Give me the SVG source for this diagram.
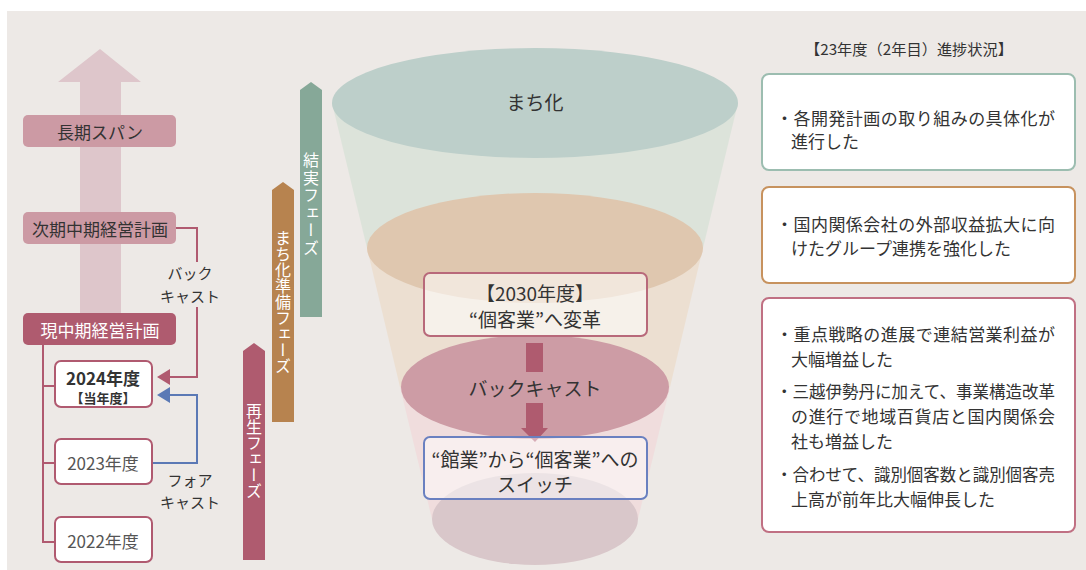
<svg xmlns="http://www.w3.org/2000/svg" width="1086" height="570" viewBox="0 0 1086 570">
<style>
.jp{font-family:"Noto Sans CJK JP","Noto Sans",sans-serif;}
.dark{fill:#333333;}
.lbl{font-size:17px;text-anchor:middle;dominant-baseline:central;}
.small{font-size:15px;text-anchor:middle;dominant-baseline:central;fill:#333;}
.yr{fill:#fff;stroke:#B05A70;stroke-width:2;}
.cr{stroke:#B05A70;stroke-width:2;fill:none;}
.bl{stroke:#5B79B5;stroke-width:2;fill:none;}
.vt{writing-mode:vertical-rl;font-size:16px;fill:#fff;}
.rt{font-size:17px;fill:#333;dominant-baseline:central;}
.card{fill:#fff;stroke-width:2;}
</style>
<rect x="0" y="0" width="1086" height="570" fill="#ffffff"/>
<rect x="7" y="11" width="1079" height="559" fill="#EDE9E6"/>

<g id="span-arrow">
<polygon points="100,49 141,82 121,82 121,320 80,320 80,82 58,82" fill="#DEC6CB"/>
</g>
<g id="long-span" class="jp">
<rect x="23" y="115" width="153" height="32" rx="5" fill="#CC9AA4"/>
<text x="100" y="131" class="lbl dark">長期スパン</text>
</g>
<g id="next-plan" class="jp">
<rect x="23" y="212" width="153" height="32" rx="5" fill="#CC9AA4"/>
<text x="100" y="228" class="lbl dark">次期中期経営計画</text>
</g>
<g id="current-plan" class="jp">
<rect x="23" y="313" width="153" height="32" rx="5" fill="#AF5B6F"/>
<text x="100" y="329" class="lbl" fill="#fff">現中期経営計画</text>
</g>

<g id="connectors">
<path class="cr" d="M43,345 V542 H55 M43,386 H55 M43,463 H55"/>
<path class="cr" d="M176,228 H197 V262 M197,307 V377 H168"/>
<polygon points="157,377 170,369 170,385" fill="#B05A70"/>
<path class="bl" d="M152,463 H197 V395 H168"/>
<polygon points="157,395 170,387 170,403" fill="#5B79B5"/>
</g>
<g id="backcast-label" class="jp">
<text x="190" y="272" class="small">バック</text>
<text x="190" y="295" class="small">キャスト</text>
</g>
<g id="forecast-label" class="jp">
<text x="190" y="479" class="small">フォア</text>
<text x="190" y="501" class="small">キャスト</text>
</g>

<g id="y2024" class="jp">
<rect class="yr" x="55" y="361" width="97" height="46" rx="6"/>
<text x="103" y="377" font-size="17" font-weight="bold" text-anchor="middle" dominant-baseline="central" fill="#333">2024年度</text>
<text x="103" y="397" font-size="13" font-weight="bold" text-anchor="middle" dominant-baseline="central" fill="#333">【当年度】</text>
</g>
<g id="y2023" class="jp">
<rect class="yr" x="55" y="439" width="97" height="45" rx="6"/>
<text x="103" y="462" font-size="17" text-anchor="middle" dominant-baseline="central" fill="#555">2023年度</text>
</g>
<g id="y2022" class="jp">
<rect class="yr" x="55" y="517" width="97" height="45" rx="6"/>
<text x="103" y="540" font-size="17" text-anchor="middle" dominant-baseline="central" fill="#555">2022年度</text>
</g>

<g id="phase-fruition" class="jp">
<polygon points="300,90 311,82 322,90 322,317 300,317" fill="#86A898"/>
<text x="311" y="152" class="vt" letter-spacing="1.5">結実フェーズ</text>
</g>
<g id="phase-prep" class="jp">
<polygon points="272,190 283,182 294,190 294,422 272,422" fill="#B7834F"/>
<text x="283" y="230" class="vt">まち化準備フェーズ</text>
</g>
<g id="phase-rebirth" class="jp">
<polygon points="243,351 254,343 265,351 265,560 243,560" fill="#AF5B6F"/>
<text x="254" y="403" class="vt">再生フェーズ</text>
</g>

<g id="funnel">
<polygon points="332,103 738,103 703,248 367,248" fill="#DCE3DA"/>
<polygon points="367,248 703,248 670,387 400,387" fill="#ECDFD1"/>
<polygon points="400,387 670,387 638,519 432,519" fill="#F0DDDD"/>
<ellipse cx="535" cy="519" rx="103" ry="46" fill="#D9C7CA"/>
<ellipse cx="535" cy="387" rx="134" ry="52" fill="#CD9CA5"/>
<ellipse cx="535" cy="248" rx="168" ry="55" fill="#DFC7AF"/>
<ellipse cx="535" cy="103" rx="203" ry="55" fill="#BDCFCA"/>
<text x="535" y="101" class="jp" font-size="19" text-anchor="middle" dominant-baseline="central" fill="#333">まち化</text>
</g>

<g id="goal-2030" class="jp">
<rect x="424" y="273" width="223" height="63" rx="6" fill="#ffffff" fill-opacity="0.55" stroke="#B8697A" stroke-width="2"/>
<text x="535" y="292" font-size="19" text-anchor="middle" dominant-baseline="central" fill="#333">【2030年度】</text>
<text x="535" y="318" font-size="19" text-anchor="middle" dominant-baseline="central" fill="#333">“個客業”へ変革</text>
</g>
<g id="backcast-arrow" class="jp">
<rect x="526" y="343" width="17" height="29" fill="#AF5B6F"/>
<polygon points="526,403 543,403 543,428 548,428 535,442 521,428 526,428" fill="#AF5B6F"/>
<text x="535" y="387" font-size="19" text-anchor="middle" dominant-baseline="central" fill="#333">バックキャスト</text>
</g>
<g id="switch" class="jp">
<rect x="424" y="437" width="223" height="62" rx="6" fill="#ffffff" fill-opacity="0.5" stroke="#6A80C0" stroke-width="2"/>
<text x="535" y="458" font-size="19" text-anchor="middle" dominant-baseline="central" fill="#333">“館業”から“個客業”への</text>
<text x="535" y="483" font-size="19" text-anchor="middle" dominant-baseline="central" fill="#333">スイッチ</text>
</g>

<g id="progress-title" class="jp">
<text x="909" y="48" font-size="15" text-anchor="middle" dominant-baseline="central" fill="#333" textLength="208" lengthAdjust="spacingAndGlyphs">【23年度（2年目）進捗状況】</text>
</g>
<g id="card1" class="jp">
<rect class="card" x="762" y="74" width="313" height="96" rx="7" stroke="#9CBDB0"/>
<text class="rt" x="776" y="117" textLength="279" lengthAdjust="spacing">・各開発計画の取り組みの具体化が</text>
<text class="rt" x="791" y="140">進行した</text>
</g>
<g id="card2" class="jp">
<rect class="card" x="762" y="187" width="313" height="96" rx="7" stroke="#C7925E"/>
<text class="rt" x="776" y="223" textLength="279" lengthAdjust="spacing">・国内関係会社の外部収益拡大に向</text>
<text class="rt" x="791" y="247">けたグループ連携を強化した</text>
</g>
<g id="card3" class="jp">
<rect class="card" x="762" y="298" width="313" height="234" rx="7" stroke="#C07083"/>
<text class="rt" x="776" y="333" textLength="279" lengthAdjust="spacing">・重点戦略の進展で連結営業利益が</text>
<text class="rt" x="791" y="358">大幅増益した</text>
<text class="rt" x="776" y="390" textLength="279" lengthAdjust="spacingAndGlyphs">・三越伊勢丹に加えて、事業構造改革</text>
<text class="rt" x="791" y="415" textLength="264" lengthAdjust="spacing">の進行で地域百貨店と国内関係会</text>
<text class="rt" x="791" y="440">社も増益した</text>
<text class="rt" x="776" y="473" textLength="279" lengthAdjust="spacingAndGlyphs">・合わせて、識別個客数と識別個客売</text>
<text class="rt" x="791" y="498">上高が前年比大幅伸長した</text>
</g>
</svg>
